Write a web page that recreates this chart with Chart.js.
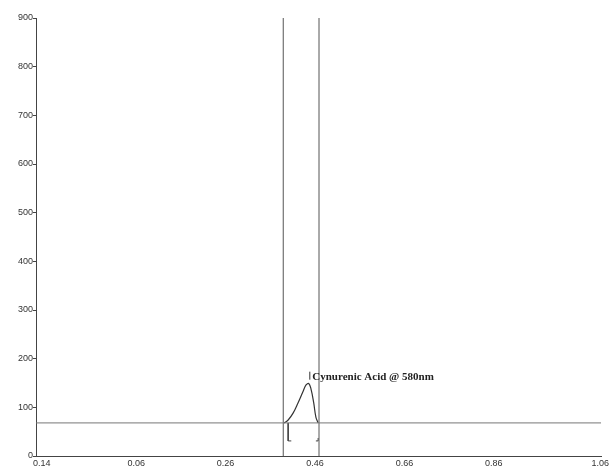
<!DOCTYPE html>
<html>
<head>
<meta charset="utf-8">
<script src="https://cdn.jsdelivr.net/npm/chart.js@4"></script>
<style>
html,body{margin:0;padding:0;background:#fff;}
#wrap{width:611px;height:472px;position:relative;}
</style>
</head>
<body>
<div id="wrap"><canvas id="c" width="611" height="472"></canvas></div>
<script>
// ---- data ----
const xTickValues = [-0.151, 0.06, 0.26, 0.46, 0.66, 0.86, 1.098];
const xTickLabels = ["0.14", "0.06", "0.26", "0.46", "0.66", "0.86", "1.06"];
const yTickValues = [0, 100, 200, 300, 400, 500, 600, 700, 800, 900];

const baselineX = [-0.164, 1.10];
const baselineY = [68, 68];

const peakX = [0.391, 0.400, 0.411, 0.422, 0.433, 0.440, 0.446, 0.451, 0.457, 0.462, 0.467];
const peakY = [68, 74, 88, 109, 132, 146, 149, 138, 110, 80, 68];

const markerLineX = [0.389, 0.469];
const markerLineY = [0, 900];

const leftBracketX = [0.400, 0.400, 0.407];
const leftBracketY = [68, 31, 31];
const rightBracketX = [0.462, 0.467, 0.467];
const rightBracketY = [31, 31, 37];

const peakLabel = "Cynurenic Acid @ 580nm";
const peakLabelX = 0.454;
const peakLabelY = 163;

// ---- build ----
const pts = (xs, ys) => xs.map((x, i) => ({x: x, y: ys[i]}));
const lineDs = (data, color, extra) => Object.assign({
  data: data, showLine: true, borderColor: color, borderWidth: 1,
  pointRadius: 0, fill: false, tension: 0
}, extra || {});

const labelPlugin = {
  id: 'peakLabel',
  afterDatasetsDraw(chart) {
    const ctx = chart.ctx;
    const xs = chart.scales.x, ys = chart.scales.y;
    const px = xs.getPixelForValue(peakLabelX);
    const py = ys.getPixelForValue(peakLabelY);
    ctx.save();
    ctx.strokeStyle = '#333';
    ctx.lineWidth = 1;
    ctx.beginPath();
    ctx.moveTo(px - 2.5, py - 5);
    ctx.lineTo(px - 2.5, py + 3);
    ctx.stroke();
    ctx.fillStyle = '#222';
    ctx.font = 'bold 11px "Liberation Serif", serif';
    ctx.textBaseline = 'middle';
    ctx.textAlign = 'left';
    ctx.fillText(peakLabel, px, py);
    ctx.restore();
  }
};

new Chart(document.getElementById('c'), {
  type: 'scatter',
  data: {
    datasets: [
      lineDs(pts(baselineX, baselineY), '#777'),
      lineDs(pts([markerLineX[0], markerLineX[0]], markerLineY), '#555'),
      lineDs(pts([markerLineX[1], markerLineX[1]], markerLineY), '#555'),
      lineDs(pts(peakX, peakY), '#333', {tension: 0.4, borderWidth: 1.2}),
      lineDs(pts(leftBracketX, leftBracketY), '#444'),
      lineDs(pts(rightBracketX, rightBracketY), '#444')
    ]
  },
  options: {
    responsive: false,
    animation: false,
    events: [],
    layout: {padding: {top: 18, right: 6, left: 0, bottom: 0}},
    plugins: {legend: {display: false}, tooltip: {enabled: false}},
    scales: {
      x: {
        type: 'linear',
        min: -0.164,
        max: 1.10,
        afterBuildTicks(axis) { axis.ticks = xTickValues.map(v => ({value: v})); },
        afterFit(axis) { axis.height = 16; },
        grid: {display: false, drawTicks: false},
        border: {display: true, color: '#444', width: 1},
        ticks: {
          autoSkip: false, maxRotation: 0, padding: 2,
          color: '#333',
          font: {family: '"Liberation Sans", Arial, sans-serif', size: 9},
          callback: (v, i) => xTickLabels[i]
        }
      },
      y: {
        type: 'linear',
        min: 0,
        max: 900,
        afterBuildTicks(axis) { axis.ticks = yTickValues.map(v => ({value: v})); },
        afterFit(axis) { axis.width = 36; },
        grid: {display: true, drawOnChartArea: false, drawTicks: true, tickLength: 3, color: '#444'},
        border: {display: true, color: '#444', width: 1},
        ticks: {
          autoSkip: false, padding: 0,
          color: '#333',
          font: {family: '"Liberation Sans", Arial, sans-serif', size: 9},
          callback: v => String(v)
        }
      }
    }
  },
  plugins: [labelPlugin]
});
</script>
</body>
</html>
